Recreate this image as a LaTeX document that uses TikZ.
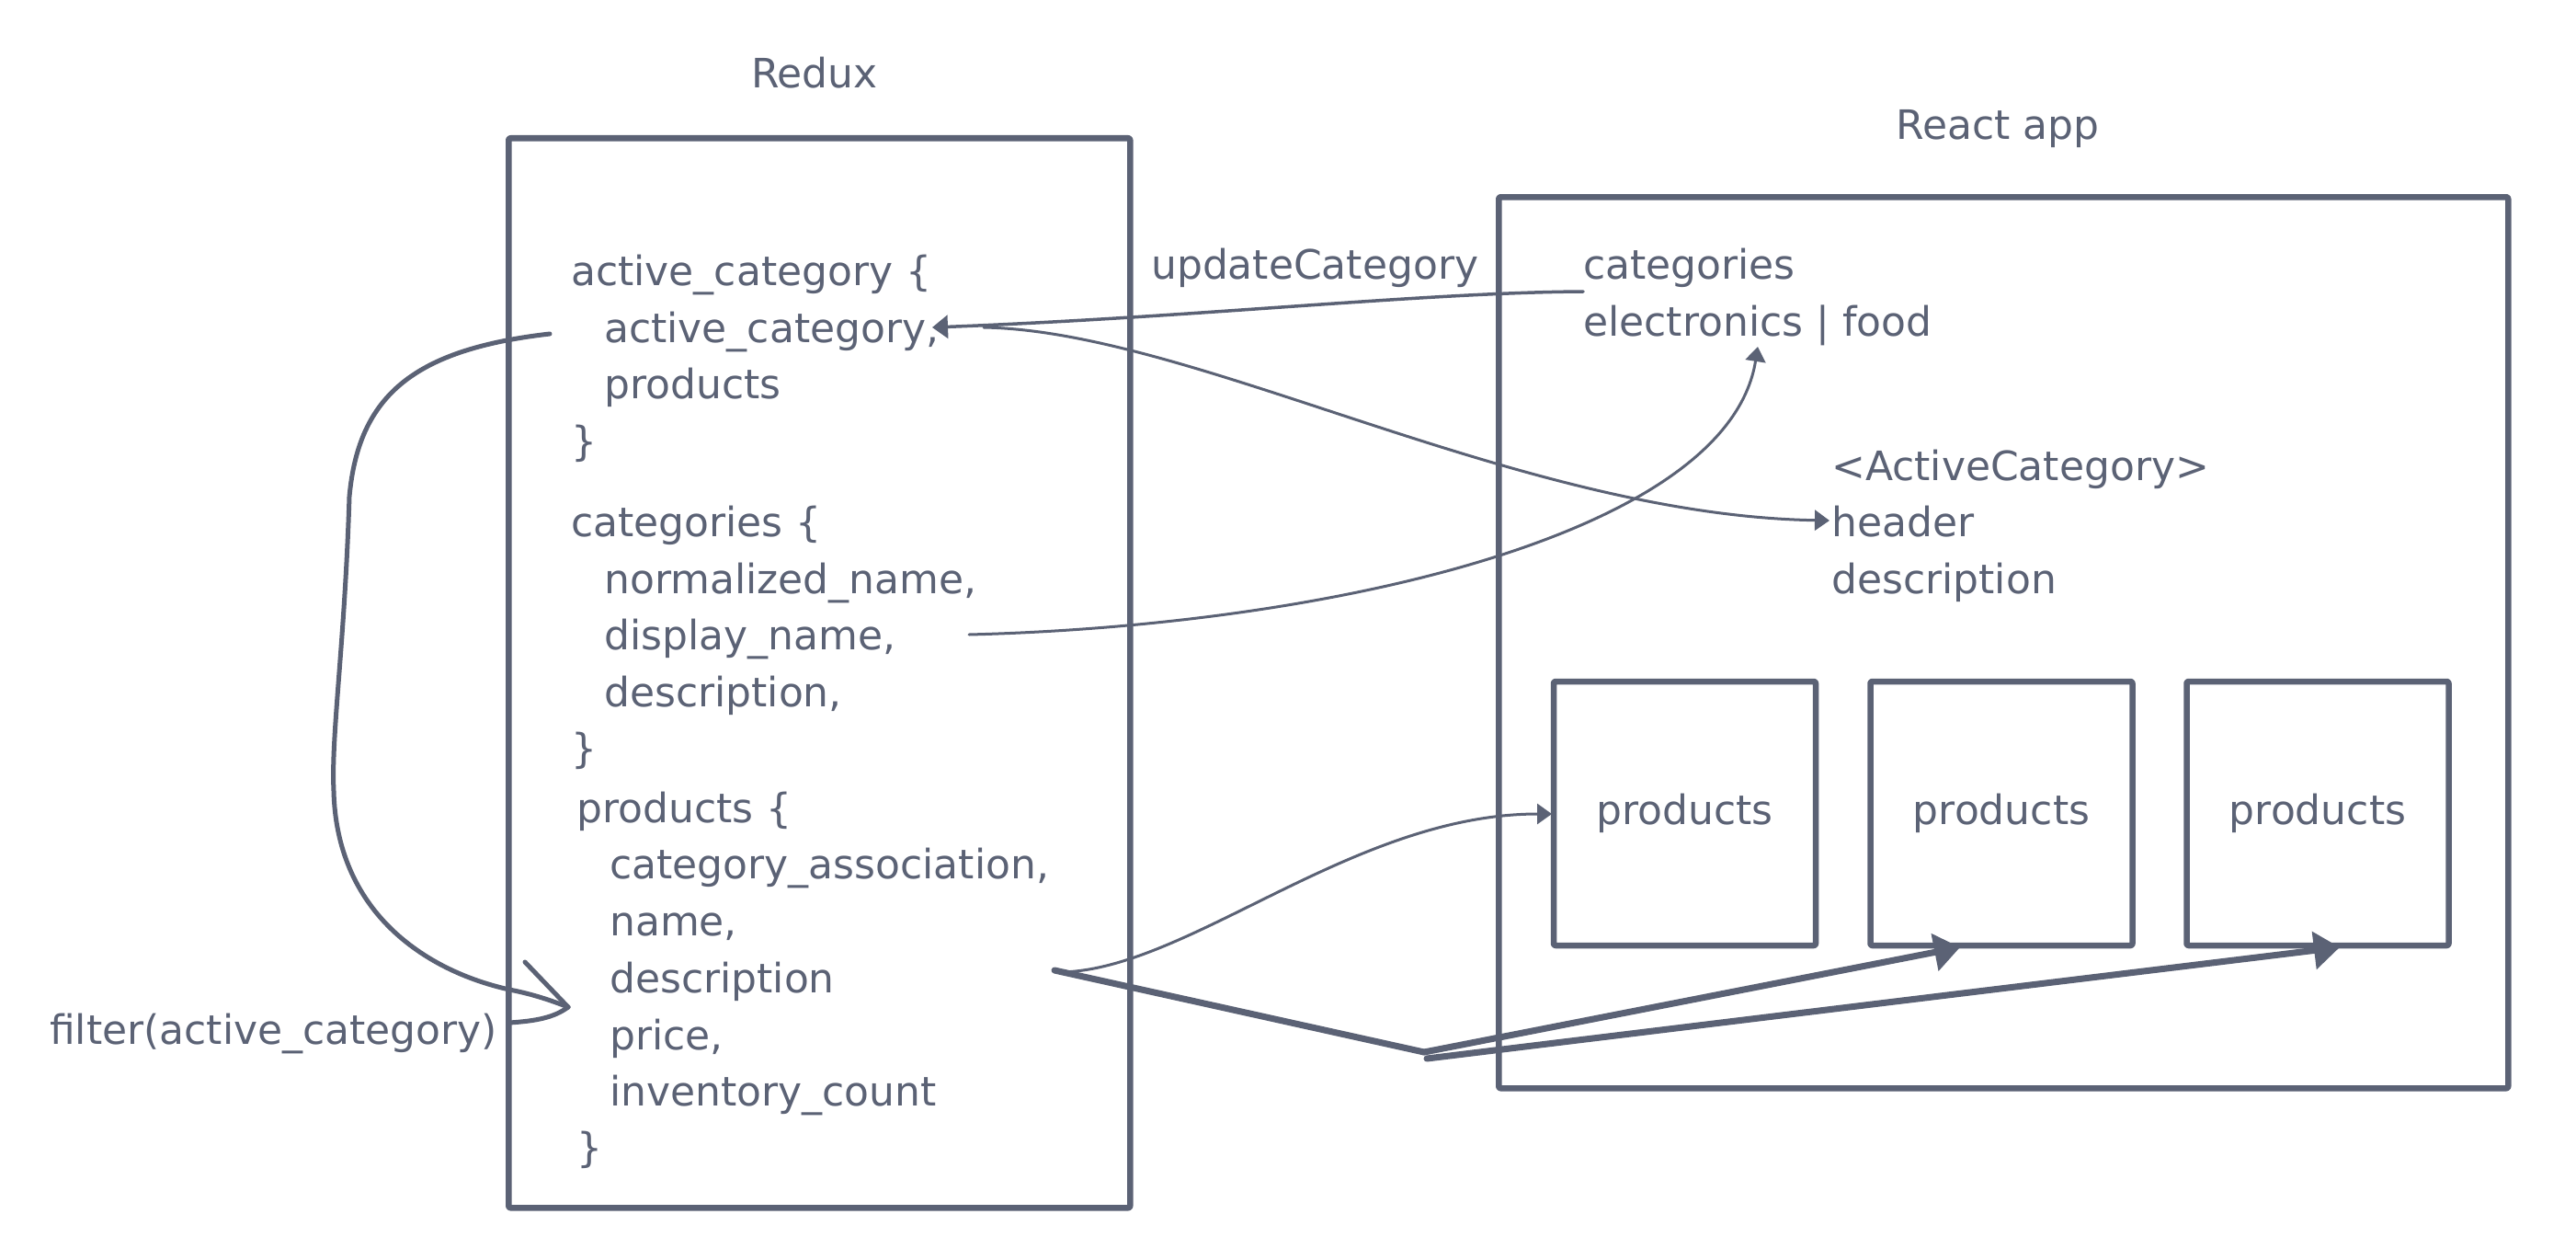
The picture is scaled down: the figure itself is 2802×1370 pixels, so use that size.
\documentclass[tikz,border=0pt]{standalone}
\usepackage{fontspec}
\setmainfont{DejaVu Sans}
\usetikzlibrary{arrows.meta}
\definecolor{ink}{RGB}{91,98,117}
\begin{document}
\begin{tikzpicture}[x=1pt,y=-1pt,
  txt/.style={font=\fontsize{44}{53}\selectfont, text=ink, inner sep=0pt, anchor=base west},
  frame/.style={draw=ink, line width=6.5pt, rounded corners=2pt, line join=round},
  pbox/.style={frame, minimum width=285pt, minimum height=287pt, inner sep=0pt,
     font=\fontsize{44}{53}\selectfont, text=ink},
  thinarrow/.style={draw=ink, line width=3.5pt, line cap=round, -{Triangle[length=17pt,width=25pt]}},
  thinline/.style={draw=ink, line width=3pt, line cap=round, -{Triangle[length=16pt,width=22pt]}},
  thickarrow/.style={draw=ink, line width=7pt, line cap=round, -{Triangle[length=28pt,width=40pt]}},
  thickline/.style={draw=ink, line width=7pt, line cap=round},
  handline/.style={draw=ink, line width=5pt, line cap=round, line join=round}
]
\useasboundingbox (0,0) rectangle (2802,1370);
\fill[white] (0,0) rectangle (2802,1370);

% titles
\node[txt, anchor=base] (redux) at (886,96) {Redux};
\node[txt, anchor=base] (reactapp) at (2173,152) {React app};

% frames
\node[frame, anchor=north west, minimum width=676pt, minimum height=1163pt] (reduxbox) at (550,147) {};
\node[frame, anchor=north west, minimum width=1098pt, minimum height=969pt] (reactbox) at (1627,211) {};

% Redux store text
\node[txt] (ac0) at (621,310) {active\_category \{};
\node[txt] (ac1) at (657,372) {active\_category,};
\node[txt] (ac2) at (657,433) {products};
\node[txt] (ac3) at (621,495) {\}};
\node[txt] (ca0) at (621,583) {categories \{};
\node[txt] (ca1) at (657,645) {normalized\_name,};
\node[txt] (ca2) at (657,706) {display\_name,};
\node[txt] (ca3) at (657,768) {description,};
\node[txt] (ca4) at (621,829) {\}};
\node[txt] (pr0) at (627,894) {products \{};
\node[txt] (pr1) at (663,955) {category\_association,};
\node[txt] (pr2) at (663,1017) {name,};
\node[txt] (pr3) at (663,1079) {description};
\node[txt] (pr4) at (663,1141) {price,};
\node[txt] (pr5) at (663,1202) {inventory\_count};
\node[txt] (pr6) at (627,1263) {\}};

\node[txt] (filter) at (54,1135) {filter(active\_category)};

% React app text
\node[txt] (update) at (1252,303) {updateCategory};
\node[txt] (rcat) at (1722,303) {categories};
\node[txt] (rcats) at (1722,365) {electronics | food};
\node[txt] (actc) at (1992,522) {<ActiveCategory>};
\node[txt] (hdr) at (1992,583) {header};
\node[txt] (dsc) at (1992,645) {description};

% product boxes
\node[pbox] (p1) at (1832.5,884.5) {products};
\node[pbox] (p2) at (2177,884.5) {products};
\node[pbox] (p3) at (2521,884.5) {products};

% connector end coordinates
\coordinate (ucA) at (1722,317);
\coordinate (ucB) at (1014,356);
\coordinate (hdA) at (1070,356);
\coordinate (hdB) at (1990,566);
\coordinate (dnA) at (1054,690);
\coordinate (dnB) at (1912,377);
\coordinate (pdA) at (1151,1057);
\coordinate (pdB) at (1688,885);
\coordinate (thA) at (1147,1055);
\coordinate (thJ) at (1549,1144);
\coordinate (thK) at (1552,1151);
\coordinate (p2tip) at (2132,1030);
\coordinate (p3tip) at (2545,1030);
\coordinate (lpA) at (598,363);
\coordinate (lpB) at (618,1095);

% updateCategory
\draw[thinarrow] (ucA) .. controls (1550,318) and (1300,345) .. (ucB);
% to header
\draw[thinline] (hdA) .. controls (1300,360) and (1650,560) .. (hdB);
% display_name to categories
\draw[thinline] (dnA) .. controls (1450,680) and (1880,580) .. (dnB);
% products to first product box
\draw[thinline] (pdA) .. controls (1290,1057) and (1470,885) .. (pdB);
% thick fan-out
\draw[thickline] (thA) -- (thJ);
\draw[thickarrow] (thJ) -- (p2tip);
\draw[thickarrow] (thK) -- (p3tip);

% hand-drawn filter loop
\draw[handline] (lpA) .. controls (450,380) and (390,430) .. (380,540)
   .. controls (375,700) and (360,800) .. (363,860)
   .. controls (366,990) and (460,1055) .. (554,1076)
   .. controls (580,1081) and (600,1088) .. (lpB);
\draw[handline] (571,1046) -- (lpB);
\draw[handline] (lpB) .. controls (603,1106) and (585,1110) .. (554,1112);
\end{tikzpicture}
\end{document}
